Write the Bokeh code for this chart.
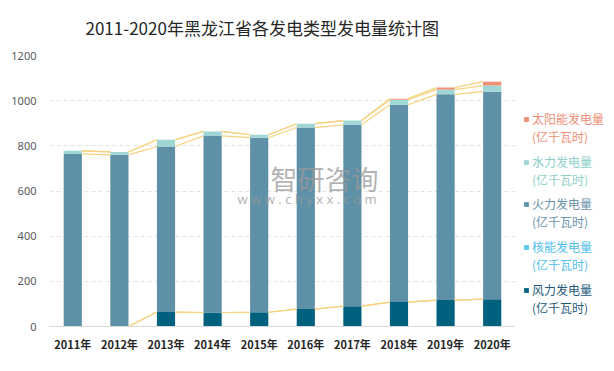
from bokeh.plotting import figure
from bokeh.models import (ColumnDataSource, Legend, LegendItem, Label, FixedTicker,
                          Range1d, FactorRange)
from bokeh.layouts import row
from bokeh.transform import dodge
from bokeh.embed import file_html
from bokeh.resources import INLINE

years = ["2011年", "2012年", "2013年", "2014年", "2015年",
         "2016年", "2017年", "2018年", "2019年", "2020年"]
wind = [0, 0, 64, 62, 63, 77, 90, 108, 117, 121]
nuclear = [0, 0, 0, 0, 0, 0, 0, 0, 0, 0]
thermal = [764, 760, 733, 782, 773, 804, 803, 874, 911, 919]
hydro = [14, 13, 30, 20, 13, 17, 19, 22, 21, 27]
solar = [0, 0, 0, 0, 0, 0, 0, 5, 9, 17]

series_keys = ["wind", "nuclear", "thermal", "hydro", "solar"]
series_names = ["风力发电量", "核能发电量", "火力发电量", "水力发电量", "太阳能发电量"]
unit_label = "(亿千瓦时)"
colors = ["#00617F", "#5BC8F0", "#5E91A7", "#A0D6D3", "#EE8F75"]
text_colors = ["#1F5A7A", "#4FC0EA", "#6A93AA", "#8CCFC9", "#EE8F75"]
y_ticks = [0, 200, 400, 600, 800, 1000, 1200]

data = dict(x=years, wind=wind, nuclear=nuclear, thermal=thermal, hydro=hydro, solar=solar)
src = ColumnDataSource(data)

p = figure(width=515, height=355, x_range=FactorRange(*years), y_range=Range1d(0, 1200),
           output_backend="svg", toolbar_location=None,
           min_border_left=49, min_border_right=0, min_border_top=55, min_border_bottom=29)
p.x_range.range_padding = 0
p.x_range.factor_padding = 0

renderers = p.vbar_stack(series_keys, x="x", width=0.39, source=src,
                         color=colors, line_color=None)

# series lines connecting the bar tops
cum = []
run = [0] * len(years)
for key in series_keys:
    run = [a + b for a, b in zip(run, data[key])]
    cum.append(list(run))
x0s, x1s, y0s, y1s = [], [], [], []
for c in cum:
    for i in range(len(years) - 1):
        if c[i] == 0 and c[i + 1] == 0:
            continue
        x0s.append(years[i]); x1s.append(years[i + 1])
        y0s.append(c[i]); y1s.append(c[i + 1])
seg = ColumnDataSource(dict(x0=x0s, x1=x1s, y0=y0s, y1=y1s))
p.segment(x0=dodge("x0", 0.195, range=p.x_range), y0="y0",
          x1=dodge("x1", -0.195, range=p.x_range), y1="y1",
          source=seg, line_color="#F6D27F", line_width=1.2)

# title
p.title.text = "2011-2020年黑龙江省各发电类型发电量统计图"
p.title.text_font = "Noto Sans CJK SC"
p.title.text_font_size = "17px"
p.title.text_font_style = "normal"
p.title.text_color = "#262626"
p.title.align = "left"
p.title.offset = 36
p.title.vertical_align = "top"
p.title.standoff = 28

# axes
p.yaxis.ticker = FixedTicker(ticks=y_ticks)
p.yaxis.axis_line_color = None
p.yaxis.major_tick_line_color = None
p.yaxis.minor_tick_line_color = None
p.yaxis.major_label_text_font = "Noto Sans"
p.yaxis.major_label_text_font_size = "11px"
p.yaxis.major_label_text_color = "#595959"
p.yaxis.major_label_standoff = 7

p.xaxis.axis_line_color = "#D9D9D9"
p.xaxis.axis_line_width = 1
p.xaxis.major_tick_line_color = None
p.xaxis.minor_tick_line_color = None
p.xaxis.major_label_text_font = "Noto Sans CJK SC"
p.xaxis.major_label_text_font_size = "11px"
p.xaxis.major_label_text_font_style = "bold"
p.xaxis.major_label_text_color = "#262626"
p.xaxis.major_label_standoff = 3

p.xgrid.grid_line_color = None
p.ygrid.grid_line_color = "#E3E3E3"
p.ygrid.grid_line_dash = "4 3"
p.outline_line_color = None

# watermark
p.add_layout(Label(x=221, y=148, x_units="screen", y_units="screen", text="智研咨询",
                   text_font="Noto Sans CJK SC", text_font_size="27px", text_color="#9A9A9A",
                   text_alpha=0.75, text_baseline="middle"))
p.add_layout(Label(x=188, y=128, x_units="screen", y_units="screen",
                   text="w w w . c h y x x . c o m", text_font="Noto Sans",
                   text_font_size="13px", text_color="#9A9A9A", text_alpha=0.75,
                   text_baseline="middle"))

# legend panel: a narrow figure whose frame holds the legend entries
q = figure(width=91, height=355, x_range=FactorRange(*years), y_range=Range1d(0, 1200),
           output_backend="svg", toolbar_location=None, x_axis_type=None, y_axis_type=None,
           min_border_left=0, min_border_right=0, min_border_top=0, min_border_bottom=0)
q.outline_line_color = None
q.xgrid.grid_line_color = None
q.ygrid.grid_line_color = None
legend_renderers = q.vbar_stack(series_keys, x="x", width=0.39, source=src,
                                color=colors, line_color=None)
for r in legend_renderers:
    r.visible = False

first_bottoms = [28, 71, 114, 156, 199]
second_bottoms = [10, 53, 96, 138, 181]
common = dict(padding=0, margin=0, border_line_color=None, background_fill_alpha=0,
              inactive_fill_alpha=0, label_height=14,
              label_text_font="Noto Sans CJK SC", label_text_font_size="12px")
for r, name, tc, b1, b2 in zip(legend_renderers, series_names, text_colors,
                               first_bottoms, second_bottoms):
    lg1 = Legend(items=[LegendItem(label=name, renderers=[r])], location=(8, b1),
                 glyph_width=6, glyph_height=6, label_standoff=3,
                 label_text_color=tc, **common)
    lg2 = Legend(items=[LegendItem(label=unit_label, renderers=[r])], location=(17, b2),
                 glyph_width=0, glyph_height=6, label_standoff=0,
                 label_text_color=tc, **common)
    q.add_layout(lg1, "center")
    q.add_layout(lg2, "center")

layout = row(p, q)
open("out.html", "w").write(file_html(layout, INLINE))
